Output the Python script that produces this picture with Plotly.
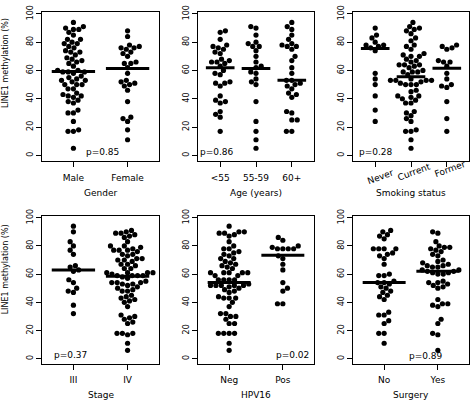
import numpy as np
import plotly.graph_objects as go

W, H = 473, 402
FONT = "DejaVu Sans"

# ---------------- data ----------------
gender_cats = ["Male", "Female"]
gender_male = [94, 91, 90, 89, 89, 87, 85, 82, 82, 80, 79, 79, 77, 76, 74, 73, 73, 71, 69, 68,
               67, 66, 65, 63, 60, 60, 59, 59, 59, 58, 56, 55, 54, 53, 53, 52, 50, 50, 50, 47,
               47, 44, 43, 42, 42, 41, 39, 38, 37, 32, 30, 30, 24, 18, 17, 17, 5]
gender_female = [88, 84, 78, 77, 76, 76, 75, 73, 72, 70, 66, 65, 65, 62, 58, 53, 52, 51, 50, 49,
                 46, 38, 27, 26, 24, 18, 11]
gender_median = [59.3, 61.3]

age_cats = ["<55", "55-59", "60+"]
age_lt55 = [88, 87, 82, 78, 77, 76, 75, 73, 72, 68, 67, 66, 66, 65, 63, 60, 58, 57, 52, 51,
            51, 49, 42, 39, 38, 37, 31, 29, 27, 17]
age_55_59 = [91, 90, 85, 80, 79, 77, 77, 74, 70, 66, 63, 62, 59, 58, 54, 52, 50, 38, 24, 17, 11, 5]
age_60p = [94, 91, 89, 85, 82, 79, 78, 77, 77, 75, 70, 67, 62, 58, 53, 53, 51, 50, 49, 47,
           44, 43, 41, 31, 30, 25, 25, 17, 17]
age_median = [62.0, 61.3, 53.0]

smoke_cats = ["Never", "Current", "Former"]
smoke_never = [90, 85, 83, 80, 78, 78, 77, 76, 74, 58, 54, 50, 42, 32, 24]
smoke_current = [94, 91, 90, 89, 88, 86, 83, 81, 78, 77, 75, 72, 71, 70, 70, 68, 67, 66, 64, 64,
                 64, 63, 62, 60, 59, 59, 59, 57, 54, 53, 53, 53, 53, 52, 51, 50, 50, 50, 46, 45,
                 42, 42, 41, 40, 39, 37, 37, 31, 30, 28, 26, 24, 18, 17, 17, 11, 5]
smoke_former = [78, 77, 76, 75, 67, 66, 66, 63, 58, 54, 50, 49, 48, 38, 26, 17]
smoke_median = [75.5, 55.5, 61.5]

stage_cats = ["III", "IV"]
stage_iii = [94, 90, 83, 80, 77, 74, 66, 65, 63, 62, 56, 54, 50, 48, 47, 38, 32]
stage_iv = [91, 90, 89, 89, 88, 87, 86, 83, 80, 80, 79, 78, 77, 77, 77, 76, 74, 74, 73, 71,
            71, 70, 70, 69, 67, 67, 66, 64, 64, 61, 61, 61, 61, 60, 59, 59, 59, 59, 58, 57,
            55, 54, 54, 54, 53, 52, 53, 51, 50, 49, 48, 48, 45, 44, 43, 42, 41, 40, 37, 31,
            30, 29, 28, 26, 25, 18, 18, 18, 17, 11, 6]
stage_median = [63.0, 58.5]

hpv_cats = ["Neg", "Pos"]
hpv_neg = [94, 90, 90, 89, 89, 88, 87, 83, 80, 78, 78, 76, 75, 74, 73, 71, 71, 69, 68, 67,
           66, 65, 64, 61, 61, 61, 61, 61, 59, 59, 56, 56, 56, 56, 53, 52, 52, 52, 52, 52,
           51, 50, 49, 48, 47, 44, 43, 43, 43, 40, 37, 32, 32, 30, 30, 28, 25, 25, 18, 18,
           18, 18, 11, 6]
hpv_pos = [86, 84, 80, 79, 78, 78, 78, 78, 73, 71, 67, 63, 54, 50, 48, 39, 39]
hpv_median = [54.0, 73.4]

surg_cats = ["No", "Yes"]
surg_no = [91, 90, 88, 87, 85, 78, 78, 78, 78, 75, 74, 73, 71, 67, 60, 59, 59, 55, 54, 54,
           53, 51, 50, 48, 47, 45, 44, 42, 33, 31, 31, 27, 25, 18, 18, 11]
surg_yes = [90, 89, 83, 80, 79, 79, 78, 77, 76, 74, 73, 70, 69, 68, 67, 66, 66, 65, 65, 63,
            63, 62, 62, 61, 61, 60, 60, 55, 54, 54, 53, 52, 51, 50, 42, 39, 39, 38, 37, 28,
            25, 18, 17, 6]
surg_median = [54.0, 62.0]

y_ticks = [0, 20, 40, 60, 80, 100]
y_title = "LINE1 methylation (%)"

panels = [
    dict(cats=gender_cats, groups=[gender_male, gender_female], med=gender_median,
         p="p=0.85", xt="Gender", row=0, col=0, px=102, py=148),
    dict(cats=age_cats, groups=[age_lt55, age_55_59, age_60p], med=age_median,
         p="p=0.86", xt="Age (years)", row=0, col=1, px=217, py=148),
    dict(cats=smoke_cats, groups=[smoke_never, smoke_current, smoke_former], med=smoke_median,
         p="p=0.28", xt="Smoking status", row=0, col=2, px=376, py=148, slant=True),
    dict(cats=stage_cats, groups=[stage_iii, stage_iv], med=stage_median,
         p="p=0.37", xt="Stage", row=1, col=0, px=70, py=354),
    dict(cats=hpv_cats, groups=[hpv_neg, hpv_pos], med=hpv_median,
         p="p=0.02", xt="HPV16", row=1, col=1, px=292, py=354),
    dict(cats=surg_cats, groups=[surg_no, surg_yes], med=surg_median,
         p="p=0.89", xt="Surgery", row=1, col=2, px=426, py=355),
]

# ---------------- layout geometry (pixels) ----------------
col_px = [(42, 159), (198, 314), (353, 469)]
row_px = [(5, 157), (213, 363)]
row_yrange = [(-4.2, 101.4), (-3.5, 101.0)]


def swarm(values, d, yscale):
    """Beeswarm-style offsets (pixels) computed from the values."""
    ys = np.asarray(values, float) * yscale
    order = np.argsort(ys, kind="stable")
    px_l, py_l = [], []
    xs = np.zeros(len(ys))
    side = 1
    for i in order:
        y = ys[i]
        near = [(a, b) for a, b in zip(px_l, py_l) if abs(b - y) < d]
        cands = [0.0]
        for a, b in near:
            dx = np.sqrt(max(d * d - (b - y) ** 2, 0))
            cands += [a - dx, a + dx]
        valid = [c for c in cands
                 if all((c - a) ** 2 + (y - b) ** 2 >= d * d - 1e-6 for a, b in near)]
        best = min(valid, key=lambda c: (round(abs(c), 4), side * c))
        if best != 0:
            side = -side
        xs[i] = best
        px_l.append(best)
        py_l.append(y)
    return xs


fig = go.Figure()
annotations = []
layout = {}

for k, pn in enumerate(panels):
    n = len(pn["cats"])
    r, c = pn["row"], pn["col"]
    x0, x1 = col_px[c]
    y0, y1 = row_px[r]
    xr = (0.5 - 0.04 * n, n + 0.5 + 0.04 * n)
    units_per_px = (xr[1] - xr[0]) / (x1 - x0)
    yr = row_yrange[r]
    yscale = (y1 - y0) / (yr[1] - yr[0])
    sfx = "" if k == 0 else str(k + 1)
    xa, ya = "x" + sfx, "y" + sfx

    xs_all, ys_all = [], []
    for gi, vals in enumerate(pn["groups"]):
        off = swarm(vals, 5.4, yscale)
        xs_all += list(gi + 1 + off * units_per_px)
        ys_all += list(vals)
    fig.add_trace(go.Scatter(x=xs_all, y=ys_all, mode="markers", xaxis=xa, yaxis=ya,
                             marker=dict(size=5.2, color="black", line=dict(width=0)),
                             showlegend=False, hoverinfo="skip"))
    lx, ly = [], []
    for gi, m in enumerate(pn["med"]):
        lx += [gi + 1 - 0.4, gi + 1 + 0.4, None]
        ly += [m, m, None]
    fig.add_trace(go.Scatter(x=lx, y=ly, mode="lines", xaxis=xa, yaxis=ya,
                             line=dict(color="black", width=3),
                             showlegend=False, hoverinfo="skip"))

    slant = pn.get("slant", False)
    layout["xaxis" + sfx] = dict(
        domain=[x0 / W, x1 / W], range=list(xr), anchor=ya,
        tickvals=list(range(1, n + 1)), ticktext=pn["cats"],
        showticklabels=not slant, ticks="outside", ticklen=5, tickwidth=1,
        tickcolor="black", ticklabelstandoff=3,
        tickfont=dict(family=FONT, size=9, color="black"),
        showgrid=False, zeroline=False, showline=True, mirror=True,
        linecolor="black", linewidth=1, fixedrange=True)
    layout["yaxis" + sfx] = dict(
        domain=[1 - y1 / H, 1 - y0 / H], range=list(yr), anchor=xa,
        tickvals=y_ticks, tickangle=-90, ticks="outside", ticklen=5, tickwidth=1,
        tickcolor="black", tickfont=dict(family=FONT, size=8, color="black"),
        showgrid=False, zeroline=False, showline=True, mirror=True,
        linecolor="black", linewidth=1, fixedrange=True)

    annotations.append(dict(text=pn["p"], x=pn["px"] / W, y=1 - pn["py"] / H,
                            xref="paper", yref="paper", showarrow=False,
                            xanchor="center", yanchor="middle",
                            font=dict(family=FONT, size=9, color="black")))
    ty = 189 if r == 0 else 395
    annotations.append(dict(text=pn["xt"], x=(x0 + x1) / 2 / W, y=1 - ty / H,
                            xref="paper", yref="paper", showarrow=False,
                            xanchor="center", yanchor="middle",
                            font=dict(family=FONT, size=9, color="black")))
    if slant:
        centers = [(380, 173), (414, 168), (450, 165)]
        for lab, (cx, cy) in zip(pn["cats"], centers):
            annotations.append(dict(text=lab, x=cx / W, y=1 - cy / H,
                                    xref="paper", yref="paper", showarrow=False,
                                    textangle=-20, xanchor="center", yanchor="middle",
                                    font=dict(family=FONT, size=9, color="black")))

for cy in (57, 267):
    annotations.append(dict(text=y_title, x=5 / W, y=1 - cy / H, xref="paper", yref="paper",
                            showarrow=False, textangle=-90, xanchor="center",
                            yanchor="middle", font=dict(family=FONT, size=8, color="black")))

fig.update_layout(width=W, height=H, margin=dict(l=0, r=0, t=0, b=0),
                  paper_bgcolor="white", plot_bgcolor="white",
                  annotations=annotations, **layout)

fig.write_html("out.html", config={"displayModeBar": False},
               post_script="document.body.style.margin='0';document.body.style.padding='0';")
